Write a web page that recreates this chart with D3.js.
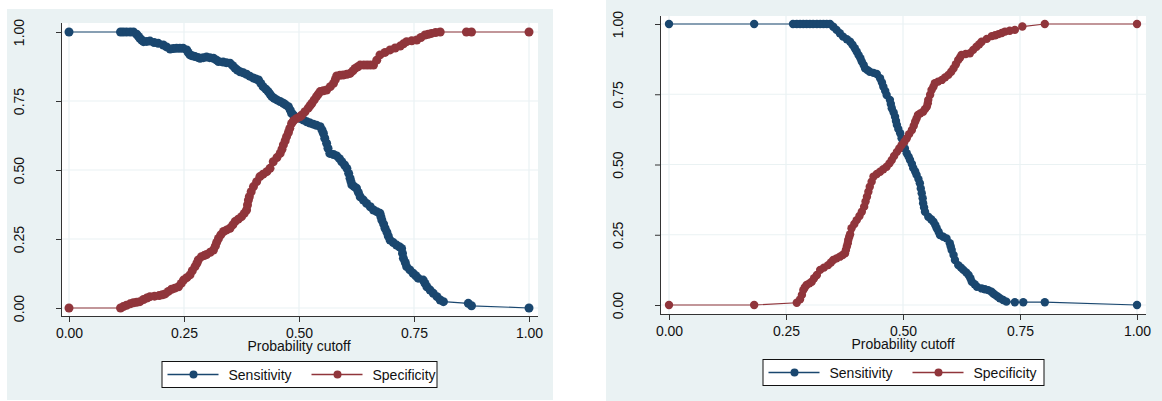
<!DOCTYPE html>
<html>
<head>
<meta charset="utf-8">
<script src="https://cdn.jsdelivr.net/npm/d3@7"></script>
<style>
  body { margin: 0; background: #fff; }
  svg { display: block; font-family: "Liberation Sans", Arial, sans-serif; }
</style>
</head>
<body>
<div id="visualization"></div>
<script>
// Tick values shared by both panels
const ticks = [0, 0.25, 0.5, 0.75, 1];
const seriesNames = ["Sensitivity", "Specificity"];

// Left panel: [cutoff, value]
const sensLeft = [
  [0, 1], [0.112, 1], [0.118, 1], [0.125, 1], [0.133, 1], [0.14, 1], [0.147, 0.992], [0.151, 0.984],
  [0.154, 0.977], [0.158, 0.971], [0.162, 0.965], [0.169, 0.966], [0.176, 0.967], [0.185, 0.962],
  [0.194, 0.959], [0.205, 0.953], [0.212, 0.946], [0.22, 0.938], [0.227, 0.94], [0.234, 0.941],
  [0.241, 0.941], [0.248, 0.941], [0.256, 0.935], [0.259, 0.926], [0.263, 0.917], [0.268, 0.914],
  [0.274, 0.911], [0.28, 0.908], [0.285, 0.905], [0.292, 0.907], [0.299, 0.909], [0.306, 0.907],
  [0.314, 0.905], [0.32, 0.899], [0.325, 0.893], [0.335, 0.891], [0.342, 0.889], [0.35, 0.887],
  [0.356, 0.878], [0.361, 0.869], [0.366, 0.862], [0.372, 0.856], [0.379, 0.852], [0.386, 0.847],
  [0.393, 0.84], [0.401, 0.833], [0.406, 0.83], [0.412, 0.826], [0.417, 0.814], [0.422, 0.802],
  [0.428, 0.793], [0.433, 0.784], [0.437, 0.775], [0.441, 0.766], [0.446, 0.76], [0.452, 0.754],
  [0.459, 0.748], [0.466, 0.742], [0.471, 0.736], [0.477, 0.729], [0.481, 0.717], [0.484, 0.705],
  [0.488, 0.699], [0.491, 0.693], [0.497, 0.69], [0.502, 0.687], [0.51, 0.681], [0.517, 0.675],
  [0.524, 0.67], [0.531, 0.666], [0.538, 0.662], [0.546, 0.657], [0.55, 0.645], [0.553, 0.633],
  [0.556, 0.615], [0.56, 0.597], [0.563, 0.579], [0.567, 0.56], [0.575, 0.556], [0.582, 0.551],
  [0.588, 0.541], [0.593, 0.53], [0.599, 0.518], [0.604, 0.506], [0.608, 0.488], [0.611, 0.47],
  [0.613, 0.458], [0.615, 0.446], [0.62, 0.44], [0.625, 0.434], [0.629, 0.419], [0.633, 0.403],
  [0.64, 0.391], [0.647, 0.379], [0.655, 0.367], [0.662, 0.355], [0.669, 0.349], [0.676, 0.343],
  [0.678, 0.331], [0.68, 0.319], [0.684, 0.304], [0.687, 0.289], [0.691, 0.275], [0.694, 0.261],
  [0.698, 0.246], [0.705, 0.237], [0.712, 0.228], [0.718, 0.222], [0.723, 0.216], [0.725, 0.198],
  [0.727, 0.18], [0.731, 0.165], [0.734, 0.15], [0.741, 0.138], [0.748, 0.126], [0.754, 0.117],
  [0.759, 0.108], [0.77, 0.101], [0.774, 0.089], [0.778, 0.077], [0.785, 0.065], [0.792, 0.053],
  [0.8, 0.041], [0.807, 0.029], [0.814, 0.023], [0.868, 0.017], [0.875, 0.008], [1, 0]
];
const specLeft = [
  [0, 0], [0.112, 0], [0.118, 0.005], [0.125, 0.01], [0.133, 0.015], [0.14, 0.019], [0.147, 0.021],
  [0.154, 0.023], [0.162, 0.031], [0.169, 0.036], [0.176, 0.041], [0.186, 0.043], [0.196, 0.045],
  [0.203, 0.048], [0.209, 0.051], [0.216, 0.06], [0.223, 0.068], [0.23, 0.072], [0.238, 0.077],
  [0.244, 0.089], [0.249, 0.101], [0.256, 0.11], [0.263, 0.12], [0.268, 0.135], [0.274, 0.15],
  [0.278, 0.162], [0.281, 0.174], [0.288, 0.186], [0.294, 0.19], [0.299, 0.194], [0.307, 0.202],
  [0.314, 0.21], [0.318, 0.224], [0.321, 0.238], [0.325, 0.252], [0.33, 0.265], [0.336, 0.277],
  [0.343, 0.283], [0.35, 0.289], [0.356, 0.301], [0.361, 0.313], [0.368, 0.322], [0.375, 0.331],
  [0.381, 0.343], [0.386, 0.355], [0.388, 0.373], [0.39, 0.391], [0.392, 0.403], [0.396, 0.421],
  [0.401, 0.44], [0.408, 0.458], [0.415, 0.476], [0.422, 0.485], [0.43, 0.494], [0.437, 0.506],
  [0.444, 0.53], [0.452, 0.545], [0.459, 0.56], [0.463, 0.575], [0.466, 0.591], [0.47, 0.606],
  [0.473, 0.621], [0.477, 0.636], [0.48, 0.651], [0.484, 0.669], [0.488, 0.678], [0.495, 0.687],
  [0.502, 0.693], [0.506, 0.699], [0.513, 0.711], [0.52, 0.724], [0.524, 0.733], [0.528, 0.742],
  [0.533, 0.754], [0.538, 0.766], [0.542, 0.775], [0.546, 0.784], [0.553, 0.787], [0.56, 0.79],
  [0.568, 0.802], [0.575, 0.814], [0.579, 0.828], [0.582, 0.841], [0.589, 0.843], [0.596, 0.844],
  [0.604, 0.847], [0.611, 0.85], [0.617, 0.859], [0.622, 0.868], [0.628, 0.874], [0.633, 0.88],
  [0.641, 0.88], [0.648, 0.88], [0.655, 0.88], [0.662, 0.88], [0.669, 0.898], [0.676, 0.917],
  [0.687, 0.926], [0.698, 0.935], [0.709, 0.942], [0.72, 0.949], [0.727, 0.957], [0.734, 0.965],
  [0.745, 0.968], [0.756, 0.971], [0.765, 0.98], [0.774, 0.989], [0.781, 0.992], [0.788, 0.995],
  [0.797, 0.998], [0.807, 1], [0.864, 1], [0.875, 1], [1, 1]
];

// Right panel: [cutoff, value]
const sensRight = [
  [0, 1], [0.182, 1], [0.265, 1], [0.273, 1], [0.28, 1], [0.287, 1], [0.294, 1], [0.301, 1],
  [0.308, 1], [0.316, 1], [0.323, 1], [0.33, 1], [0.337, 1], [0.344, 1], [0.351, 0.99],
  [0.358, 0.979], [0.365, 0.967], [0.372, 0.955], [0.38, 0.946], [0.387, 0.937], [0.392, 0.926],
  [0.397, 0.914], [0.401, 0.902], [0.405, 0.89], [0.409, 0.878], [0.412, 0.866], [0.416, 0.854],
  [0.419, 0.842], [0.424, 0.836], [0.429, 0.83], [0.437, 0.826], [0.444, 0.822], [0.451, 0.807],
  [0.455, 0.792], [0.458, 0.777], [0.462, 0.762], [0.465, 0.747], [0.472, 0.73], [0.474, 0.715],
  [0.476, 0.7], [0.48, 0.685], [0.483, 0.67], [0.485, 0.655], [0.487, 0.641], [0.49, 0.626],
  [0.494, 0.611], [0.497, 0.593], [0.501, 0.575], [0.504, 0.557], [0.508, 0.54], [0.512, 0.528],
  [0.515, 0.516], [0.519, 0.502], [0.522, 0.487], [0.526, 0.475], [0.529, 0.463], [0.533, 0.448],
  [0.536, 0.433], [0.538, 0.415], [0.54, 0.398], [0.542, 0.38], [0.543, 0.362], [0.545, 0.347],
  [0.547, 0.332], [0.554, 0.314], [0.56, 0.305], [0.565, 0.296], [0.569, 0.285], [0.572, 0.273],
  [0.576, 0.261], [0.579, 0.249], [0.586, 0.243], [0.593, 0.237], [0.6, 0.22], [0.602, 0.208],
  [0.604, 0.196], [0.608, 0.178], [0.611, 0.16], [0.618, 0.142], [0.624, 0.133], [0.629, 0.125],
  [0.635, 0.116], [0.64, 0.107], [0.644, 0.095], [0.647, 0.083], [0.653, 0.074], [0.658, 0.065],
  [0.668, 0.059], [0.675, 0.056], [0.682, 0.053], [0.689, 0.047], [0.693, 0.041], [0.697, 0.036],
  [0.702, 0.03], [0.707, 0.024], [0.714, 0.018], [0.721, 0.012], [0.739, 0.01], [0.757, 0.01],
  [0.803, 0.01], [1, 0]
];
const specRight = [
  [0, 0], [0.182, 0], [0.273, 0.008], [0.28, 0.02], [0.284, 0.036], [0.287, 0.053], [0.29, 0.062],
  [0.294, 0.071], [0.3, 0.077], [0.305, 0.083], [0.31, 0.095], [0.316, 0.107], [0.323, 0.125],
  [0.331, 0.133], [0.34, 0.142], [0.346, 0.151], [0.351, 0.16], [0.358, 0.166], [0.365, 0.172],
  [0.371, 0.178], [0.376, 0.184], [0.378, 0.196], [0.38, 0.208], [0.382, 0.22], [0.383, 0.231],
  [0.385, 0.242], [0.387, 0.252], [0.39, 0.273], [0.396, 0.288], [0.401, 0.302], [0.407, 0.317],
  [0.412, 0.332], [0.417, 0.35], [0.42, 0.368], [0.423, 0.385], [0.426, 0.403], [0.429, 0.421],
  [0.433, 0.439], [0.437, 0.457], [0.444, 0.466], [0.451, 0.474], [0.458, 0.483], [0.465, 0.492],
  [0.471, 0.504], [0.476, 0.516], [0.481, 0.53], [0.487, 0.545], [0.492, 0.557], [0.497, 0.569],
  [0.503, 0.581], [0.508, 0.593], [0.513, 0.608], [0.519, 0.623], [0.523, 0.638], [0.526, 0.652],
  [0.529, 0.664], [0.532, 0.676], [0.537, 0.682], [0.543, 0.688], [0.547, 0.697], [0.551, 0.706],
  [0.553, 0.718], [0.554, 0.73], [0.558, 0.748], [0.561, 0.765], [0.565, 0.777], [0.568, 0.789],
  [0.575, 0.795], [0.583, 0.801], [0.59, 0.81], [0.597, 0.819], [0.603, 0.83], [0.608, 0.842],
  [0.613, 0.857], [0.618, 0.872], [0.622, 0.881], [0.625, 0.89], [0.634, 0.893], [0.643, 0.896],
  [0.65, 0.908], [0.657, 0.919], [0.663, 0.928], [0.668, 0.937], [0.679, 0.947], [0.69, 0.957],
  [0.697, 0.96], [0.704, 0.964], [0.711, 0.968], [0.718, 0.973], [0.728, 0.976], [0.739, 0.979],
  [0.755, 0.991], [0.803, 1], [1, 1]
];

const colors = { sens: "#1a476f", spec: "#90353b" };
const bgColor = "#eaf2f3";

const svg = d3.select("#visualization").append("svg")
    .attr("width", 1162)
    .attr("height", 401);

// Draw one Stata-style panel
function drawPanel(p, sens, spec) {
    const g = svg.append("g");

    // outer background and white plot region
    g.append("rect")
        .attr("x", p.bg[0]).attr("y", p.bg[1])
        .attr("width", p.bg[2] - p.bg[0]).attr("height", p.bg[3] - p.bg[1])
        .attr("fill", bgColor);
    g.append("rect")
        .attr("x", p.plot[0]).attr("y", p.plot[1])
        .attr("width", p.plot[2] - p.plot[0]).attr("height", p.plot[3] - p.plot[1])
        .attr("fill", "#fff");

    const x = d3.scaleLinear().domain([0, 1]).range(p.xr);
    const y = d3.scaleLinear().domain([0, 1]).range(p.yr);

    // grid
    g.selectAll(".vgrid").data(ticks).enter().append("line")
        .attr("x1", d => x(d)).attr("x2", d => x(d))
        .attr("y1", p.plot[1]).attr("y2", p.plot[3])
        .attr("stroke", bgColor).attr("stroke-width", 1.2);
    g.selectAll(".hgrid").data(ticks).enter().append("line")
        .attr("y1", d => y(d)).attr("y2", d => y(d))
        .attr("x1", p.plot[0]).attr("x2", p.plot[2])
        .attr("stroke", bgColor).attr("stroke-width", 1.2);

    // axes
    const xAxis = d3.axisBottom(x).tickValues(ticks).tickFormat(d3.format(".2f")).tickSize(6);
    const xg = g.append("g")
        .attr("transform", "translate(0," + p.plot[3] + ")")
        .call(xAxis);
    xg.select(".domain").attr("d", "M" + p.plot[0] + ",0.5H" + p.plot[2]);

    const yAxis = d3.axisLeft(y).tickValues(ticks).tickFormat(d3.format(".2f")).tickSize(6);
    const yg = g.append("g")
        .attr("transform", "translate(" + p.plot[0] + ",0)")
        .call(yAxis);
    yg.select(".domain").attr("d", "M-0.5," + p.plot[1] + "V" + (p.plot[3] + 1));
    yg.selectAll(".tick text")
        .attr("x", null).attr("dy", null)
        .attr("transform", "translate(-38,0) rotate(-90)")
        .attr("text-anchor", "middle");

    [xg, yg].forEach(a => {
        a.selectAll("path, line").attr("stroke", "#333");
        a.selectAll("text").attr("fill", "#111").style("font-size", "14px")
            .style("font-family", "'Liberation Sans', Arial, sans-serif");
    });
    xg.selectAll(".tick text").attr("dy", null).attr("y", 22);

    g.append("text")
        .attr("x", x(0.5)).attr("y", p.titleY)
        .attr("text-anchor", "middle")
        .attr("fill", "#111")
        .style("font-size", "14px")
        .text("Probability cutoff");

    // series: connecting line, then markers
    const line = d3.line().x(d => x(d[0])).y(d => y(d[1]));
    [[sens, colors.sens], [spec, colors.spec]].forEach(([data, c]) => {
        g.append("path")
            .datum(data)
            .attr("fill", "none")
            .attr("stroke", c)
            .attr("stroke-width", 1.2)
            .attr("d", line);
        g.selectAll(null).data(data).enter().append("circle")
            .attr("cx", d => x(d[0]))
            .attr("cy", d => y(d[1]))
            .attr("r", p.r)
            .attr("fill", c);
    });

    // legend
    const lx = x(0.5) - p.legW / 2;
    const leg = g.append("g").attr("transform", "translate(" + lx + "," + p.legY + ")");
    leg.append("rect")
        .attr("x", 0.5).attr("y", 0.5)
        .attr("width", p.legW).attr("height", 26)
        .attr("fill", "#fff").attr("stroke", "#111");
    [[colors.sens, 0], [colors.spec, 144]].forEach(([c, off], i) => {
        leg.append("line")
            .attr("x1", off + 6).attr("x2", off + 57)
            .attr("y1", 13.5).attr("y2", 13.5)
            .attr("stroke", c).attr("stroke-width", 1.5);
        leg.append("circle")
            .attr("cx", off + 32).attr("cy", 13.5).attr("r", 4).attr("fill", c);
        leg.append("text")
            .attr("x", off + 67).attr("y", 19)
            .attr("fill", "#111")
            .style("font-size", "14px")
            .text(seriesNames[i]);
    });
}

drawPanel({
    bg: [7, 9, 553, 400], plot: [62, 23, 538, 316],
    xr: [69, 529], yr: [308, 32], r: 4.5,
    titleY: 351, legY: 361, legW: 275
}, sensLeft, specLeft);

drawPanel({
    bg: [606, 0, 1162, 401], plot: [661, 16, 1146, 314],
    xr: [669, 1137], yr: [305, 24], r: 4.2,
    titleY: 349, legY: 359, legW: 281
}, sensRight, specRight);
</script>
</body>
</html>
